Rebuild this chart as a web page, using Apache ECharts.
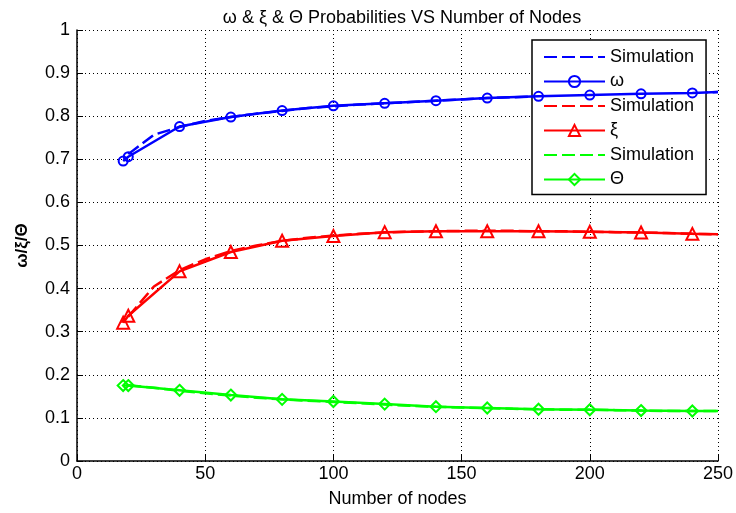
<!DOCTYPE html>
<html>
<head>
<meta charset="utf-8">
<script src="https://cdn.jsdelivr.net/npm/echarts@6/dist/echarts.min.js"></script>
<style>
  html, body { margin: 0; padding: 0; background: #fff; }
  #chart { width: 736px; height: 513px; }
</style>
</head>
<body>
<div id="chart"></div>
<script>
// Analytical curves (marked) sampled at these node counts; the last point is drawn without a marker
const nodes = [18, 20, 40, 60, 80, 100, 120, 140, 160, 180, 200, 220, 240, 250];
const omega = [0.696, 0.706, 0.776, 0.798, 0.813, 0.824, 0.830, 0.836, 0.842, 0.846, 0.849, 0.852, 0.854, 0.856];
const xi    = [0.321, 0.337, 0.440, 0.485, 0.511, 0.522, 0.531, 0.533, 0.533, 0.533, 0.532, 0.530, 0.527, 0.526];
const theta = [0.175, 0.175, 0.164, 0.153, 0.143, 0.138, 0.132, 0.126, 0.123, 0.120, 0.119, 0.117, 0.116, 0.116];

// Simulation results (dashed)
const simNodes = [20, 30, 40, 50, 60, 70, 80, 90, 100, 110, 120, 130, 140, 150, 160, 170, 180, 190, 200, 210, 220, 230, 240, 250];
const omegaSim = [0.712, 0.757, 0.775, 0.789, 0.798, 0.806, 0.812, 0.819, 0.823, 0.827, 0.830, 0.833, 0.836, 0.839, 0.842, 0.844, 0.846, 0.848, 0.849, 0.851, 0.852, 0.853, 0.855, 0.856];
const xiSim    = [0.335, 0.405, 0.443, 0.468, 0.487, 0.500, 0.511, 0.518, 0.523, 0.527, 0.530, 0.532, 0.533, 0.534, 0.534, 0.534, 0.533, 0.533, 0.532, 0.531, 0.530, 0.529, 0.527, 0.526];
const thetaSim = [0.176, 0.170, 0.163, 0.157, 0.152, 0.147, 0.143, 0.140, 0.137, 0.134, 0.131, 0.128, 0.126, 0.124, 0.123, 0.121, 0.120, 0.119, 0.119, 0.118, 0.117, 0.116, 0.116, 0.116];

const xTicks = [0, 50, 100, 150, 200, 250];
const yTicks = [0, 0.1, 0.2, 0.3, 0.4, 0.5, 0.6, 0.7, 0.8, 0.9, 1];

const FONT = '"Liberation Sans", Arial, sans-serif';
const BLUE = '#0000ff', RED = '#ff0000', GREEN = '#00ff00';

function pairs(xs, ys, lastPlain) {
  return xs.map((x, i) => {
    if (lastPlain && i === xs.length - 1) return { value: [x, ys[i]], symbol: 'none' };
    return [x, ys[i]];
  });
}

function simSeries(name, color, ys) {
  return {
    name: name, type: 'line', data: pairs(simNodes, ys, false),
    symbol: 'none', z: 3,
    lineStyle: { color: color, width: 2.5, type: [13, 5] },
    itemStyle: { color: color }
  };
}

function theorySeries(name, color, symbol, size, ys) {
  return {
    name: name, type: 'line', data: pairs(nodes, ys, true),
    symbol: symbol, symbolSize: size, showAllSymbol: true, z: 4,
    lineStyle: { color: color, width: 2.5 },
    itemStyle: { color: 'rgba(0,0,0,0)', borderColor: color, borderWidth: 2 }
  };
}

// legend entries for dashed series show only the line sample
function simLegend(name) {
  return { name: name, itemStyle: { opacity: 0 } };
}

const chart = echarts.init(document.getElementById('chart'), null, { renderer: 'canvas' });
chart.setOption({
  animation: false,
  backgroundColor: '#ffffff',
  title: {
    text: 'ω & ξ & Θ Probabilities VS Number of Nodes',
    left: 397, textAlign: 'center', top: 4,
    textStyle: { fontFamily: FONT, fontSize: 18, fontWeight: 'normal', color: '#000' }
  },
  grid: { left: 77, right: 18, top: 30, bottom: 46, containLabel: false },
  legend: {
    orient: 'vertical', left: 532, top: 40,
    padding: [8, 12, 6, 11],
    itemWidth: 61, itemHeight: 14, itemGap: 6.5,
    backgroundColor: '#ffffff', borderColor: '#000', borderWidth: 1.5,
    textStyle: { fontFamily: FONT, fontSize: 18, color: '#000' },
    formatter: n => n.trim(),
    data: [simLegend('Simulation'), 'ω', simLegend('Simulation '), 'ξ', simLegend('Simulation  '), 'Θ']
  },
  xAxis: {
    type: 'value', min: xTicks[0], max: xTicks[xTicks.length - 1], interval: 50,
    name: 'Number of nodes', nameLocation: 'middle', nameGap: 29,
    nameTextStyle: { fontFamily: FONT, fontSize: 18, color: '#000' },
    axisLine: { onZero: false, lineStyle: { color: '#000', width: 1.5 } },
    axisTick: { inside: true, length: 6, lineStyle: { color: '#000' } },
    axisLabel: { fontFamily: FONT, fontSize: 18, color: '#000', margin: 4 },
    splitLine: { show: true, lineStyle: { color: '#000', width: 1, type: [1, 3] } }
  },
  yAxis: {
    type: 'value', min: yTicks[0], max: yTicks[yTicks.length - 1], interval: 0.1,
    name: 'ω/ξ/Θ', nameLocation: 'middle', nameGap: 46, nameRotate: 90,
    nameTextStyle: { fontFamily: FONT, fontSize: 17, color: '#000', fontWeight: 'bold' },
    axisLine: { show: true, lineStyle: { color: '#000', width: 1.5 } },
    axisTick: { show: true, inside: true, length: 6, lineStyle: { color: '#000' } },
    axisLabel: {
      fontFamily: FONT, fontSize: 18, color: '#000', margin: 7,
      formatter: v => String(Math.round(v * 10) / 10)
    },
    splitLine: { show: true, lineStyle: { color: '#000', width: 1, type: [1, 3] } }
  },
  series: [
    simSeries('Simulation', BLUE, omegaSim),
    theorySeries('ω', BLUE, 'circle', 9, omega),
    simSeries('Simulation ', RED, xiSim),
    theorySeries('ξ', RED, 'triangle', 12, xi),
    simSeries('Simulation  ', GREEN, thetaSim),
    theorySeries('Θ', GREEN, 'diamond', 11, theta)
  ]
});
</script>
</body>
</html>
